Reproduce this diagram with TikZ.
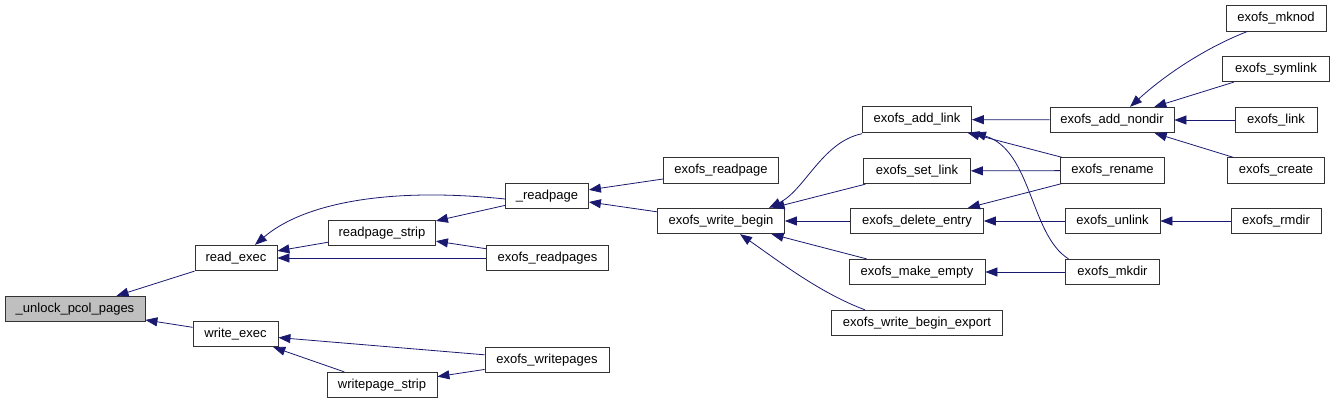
\documentclass[tikz,border=0pt]{standalone}
\usepackage{fontspec}
\setmainfont{Liberation Sans}
\usetikzlibrary{arrows.meta}
\definecolor{edgeblue}{RGB}{25,25,112}
\begin{document}
\begin{tikzpicture}[x=1pt, y=-1pt,
    fn/.style={draw=black!80, line width=0.8pt, fill=white, minimum height=25.5pt,
               inner sep=0pt, font=\fontsize{13}{15}\selectfont},
    call/.style={edgeblue, line width=0.8pt, -{Triangle[length=12pt,width=9pt]}}]

    \useasboundingbox (0,0) rectangle (1335,404);

    % Function of interest
    \node[fn, fill=black!25, minimum width=140pt] (unlock) at (75,309) {\_unlock\_pcol\_pages};

    % First level callers
    \node[fn, minimum width=82pt] (rexec) at (236,258) {read\_exec};
    \node[fn, minimum width=85pt] (wexec) at (235.5,334) {write\_exec};

    % Second level callers
    \node[fn, minimum width=107pt] (rstrip) at (382,233) {readpage\_strip};
    \node[fn, minimum width=110pt] (wstrip) at (382,385) {writepage\_strip};
    \node[fn, minimum width=83pt] (rpage) at (547,196) {\_readpage};
    \node[fn, minimum width=122pt] (rpages) at (547.5,258) {exofs\_readpages};
    \node[fn, minimum width=124pt] (wpages) at (547,360) {exofs\_writepages};

    % Callers of _readpage
    \node[fn, minimum width=115pt] (xrpage) at (721,170.5) {exofs\_readpage};
    \node[fn, minimum width=127pt] (wbegin) at (721,221) {exofs\_write\_begin};

    % Callers of exofs_write_begin
    \node[fn, minimum width=109pt] (addlink) at (917,119.5) {exofs\_add\_link};
    \node[fn, minimum width=107pt] (setlink) at (917,171) {exofs\_set\_link};
    \node[fn, minimum width=133pt] (delentry) at (917,221) {exofs\_delete\_entry};
    \node[fn, minimum width=136pt] (mkempty) at (917,272) {exofs\_make\_empty};
    \node[fn, minimum width=171pt] (export) at (917,323) {exofs\_write\_begin\_export};

    % Next column
    \node[fn, minimum width=124pt] (addnd) at (1112,120) {exofs\_add\_nondir};
    \node[fn, minimum width=104pt] (rename) at (1112.5,170.5) {exofs\_rename};
    \node[fn, minimum width=95pt] (unlink) at (1112.5,221) {exofs\_unlink};
    \node[fn, minimum width=94pt] (mkdir) at (1112.5,272) {exofs\_mkdir};

    % Last column
    \node[fn, minimum width=100pt] (mknod) at (1276,18.5) {exofs\_mknod};
    \node[fn, minimum width=107pt] (symlink) at (1276,69) {exofs\_symlink};
    \node[fn, minimum width=82pt] (link) at (1276,120) {exofs\_link};
    \node[fn, minimum width=97pt] (create) at (1276,170.5) {exofs\_create};
    \node[fn, minimum width=90pt] (rmdir) at (1276,221) {exofs\_rmdir};

    % Calls into _unlock_pcol_pages
    \draw[call] (rexec) -- (unlock);
    \draw[call] (wexec) -- (unlock);

    % Calls into read_exec and write_exec
    \draw[call] ([yshift=-3pt]rpage.west) .. controls (380,186) and (300,206) .. ([xshift=19pt]rexec.north);
    \draw[call] (rstrip) -- (rexec);
    \draw[call] (rpages) -- (rexec);
    \draw[call] (wpages) -- (wexec);
    \draw[call] (wstrip) -- (wexec);

    % Calls into the strip helpers
    \draw[call] (rpage) -- (rstrip);
    \draw[call] (rpages) -- (rstrip);
    \draw[call] (wpages) -- (wstrip);

    % Calls into _readpage
    \draw[call] (xrpage) -- (rpage);
    \draw[call] (wbegin) -- (rpage);

    % Calls into exofs_write_begin
    \draw[call] ([yshift=-1pt]addlink.south west) .. controls (822,142) and (805,190) .. ([xshift=48pt]wbegin.north);
    \draw[call] (setlink) -- (wbegin);
    \draw[call] (delentry) -- (wbegin);
    \draw[call] (mkempty) -- (wbegin);
    \draw[call] ([xshift=-52pt]export.north) .. controls (820,293) and (780,262) .. ([xshift=19pt]wbegin.south);

    % Calls into the directory helpers
    \draw[call] (addnd) -- (addlink);
    \draw[call] (rename) -- (addlink);
    \draw[call] ([xshift=-44pt]mkdir.north) .. controls (1030,235) and (1032,150) .. ([xshift=2pt]addlink.south east);
    \draw[call] (rename) -- (setlink);
    \draw[call] (rename) -- (delentry);
    \draw[call] (unlink) -- (delentry);
    \draw[call] (mkdir) -- (mkempty);

    % Calls into exofs_add_nondir and exofs_unlink
    \draw[call] ([xshift=-29pt]mknod.south) .. controls (1205,48) and (1165,75) .. ([xshift=18pt]addnd.north);
    \draw[call] (symlink) -- (addnd);
    \draw[call] (link) -- (addnd);
    \draw[call] (create) -- (addnd);
    \draw[call] (rmdir) -- (unlink);

\end{tikzpicture}
\end{document}
